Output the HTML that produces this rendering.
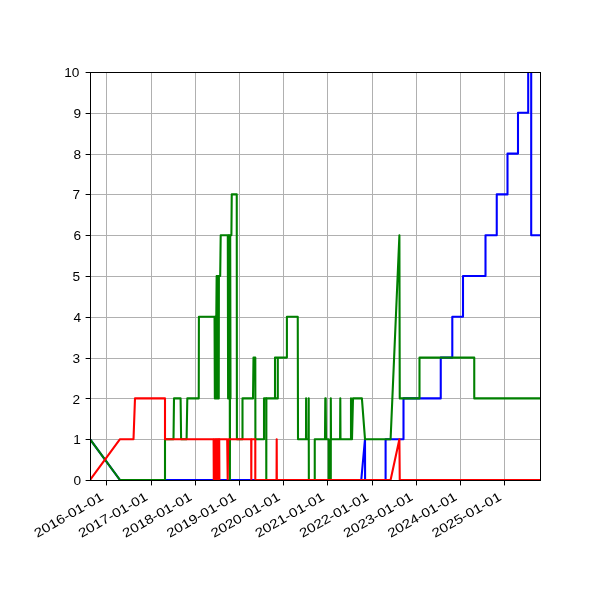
<!DOCTYPE html>
<html><head><meta charset="utf-8"><title>chart</title>
<style>
html,body{margin:0;padding:0;background:#fff;}
body{width:600px;height:600px;overflow:hidden;font-family:"Liberation Sans",sans-serif;}
svg{display:block;}
text{font-family:"Liberation Sans",sans-serif;fill:#000;}
</style></head><body>
<svg width="600" height="600" viewBox="0 0 600 600">
<rect x="0" y="0" width="600" height="600" fill="#ffffff"/>
<defs><clipPath id="ax"><rect x="90" y="72" width="450" height="408"/></clipPath></defs>

<g fill="#b0b0b0" shape-rendering="crispEdges">
<rect x="106" y="72" width="1" height="408"/>
<rect x="151" y="72" width="1" height="408"/>
<rect x="195" y="72" width="1" height="408"/>
<rect x="239" y="72" width="1" height="408"/>
<rect x="283" y="72" width="1" height="408"/>
<rect x="327" y="72" width="1" height="408"/>
<rect x="372" y="72" width="1" height="408"/>
<rect x="416" y="72" width="1" height="408"/>
<rect x="460" y="72" width="1" height="408"/>
<rect x="504" y="72" width="1" height="408"/>
<rect x="90" y="480" width="450" height="1"/>
<rect x="90" y="439" width="450" height="1"/>
<rect x="90" y="398" width="450" height="1"/>
<rect x="90" y="358" width="450" height="1"/>
<rect x="90" y="317" width="450" height="1"/>
<rect x="90" y="276" width="450" height="1"/>
<rect x="90" y="235" width="450" height="1"/>
<rect x="90" y="194" width="450" height="1"/>
<rect x="90" y="154" width="450" height="1"/>
<rect x="90" y="113" width="450" height="1"/>
<rect x="90" y="72" width="450" height="1"/>
</g>
<g clip-path="url(#ax)" fill="none" stroke-width="2.08" stroke-linejoin="round" stroke-linecap="square">
<path d="M90.00,439.20 L120.00,480.00 L361.25,480.00 L365.00,439.20 L365.10,480.00 L385.60,480.00 L385.60,439.20 L403.50,439.20 L403.50,398.40 L440.75,398.40 L440.75,357.60 L452.30,357.60 L452.30,316.80 L463.00,316.80 L463.00,276.00 L485.50,276.00 L485.50,235.20 L496.75,235.20 L496.75,194.40 L507.50,194.40 L507.50,153.60 L518.00,153.60 L518.00,112.80 L528.20,112.80 L528.20,51.60 L531.20,51.60 L531.20,235.20 L540.00,235.20" stroke="#0000ff"/>
<path d="M90.00,439.20 L120.00,480.00 L165.00,480.00 L165.00,439.20 L173.50,439.20 L174.00,398.40 L180.60,398.40 L181.10,439.20 L186.60,439.20 L187.30,398.40 L198.75,398.40 L198.90,316.80 L214.50,316.80 L214.55,316.80 L214.85,398.40 L215.15,316.80 L215.45,398.40 L215.75,316.80 L216.05,398.40 L216.30,316.80 L216.65,276.00 L216.95,398.40 L217.25,276.00 L217.55,398.40 L217.85,276.00 L218.15,398.40 L218.45,276.00 L218.75,398.40 L218.90,276.00 L219.00,276.00 L220.20,276.00 L220.70,235.20 L227.90,235.20 L227.80,235.20 L228.10,398.40 L228.40,235.20 L228.70,398.40 L229.00,235.20 L229.30,398.40 L229.60,235.20 L229.90,480.00 L230.20,235.20 L230.50,398.40 L230.20,235.20 L230.30,235.20 L231.40,235.20 L231.75,194.40 L236.75,194.40 L236.90,439.20 L242.50,439.20 L242.50,398.40 L253.00,398.40 L253.50,357.60 L255.30,357.60 L255.40,439.20 L264.00,439.20 L264.00,398.40 L266.20,398.40 L266.30,480.00 L266.40,398.40 L277.80,398.40 L277.80,357.60 M275.00,398.40 L275.00,357.60 L277.80,357.60 L286.90,357.60 L286.90,316.80 L297.75,316.80 L298.00,439.20 L306.00,439.20 L306.10,398.40 L306.20,439.20 L308.50,439.20 L308.70,398.40 L308.85,480.00 L314.75,480.00 L314.75,439.20 L325.00,439.20 L325.30,398.40 L325.70,398.40 L326.00,439.20 L328.70,439.20 L328.70,480.00 L330.80,480.00 L330.80,398.40 L331.00,439.20 L340.10,439.20 L340.30,398.40 L340.50,439.20 L351.00,439.20 L351.00,398.40 L352.00,439.20 L353.00,398.40 L361.90,398.40 L365.00,439.20 L390.60,439.20 L399.40,235.20 L399.75,398.40 L419.50,398.40 L419.50,357.60 L474.25,357.60 L474.25,398.40 L540.00,398.40" stroke="#008000"/>
<path d="M90.00,480.00 L120.00,439.20 L133.50,439.20 L135.00,398.40 L165.00,398.40 L165.00,439.20 L213.60,439.20 L213.80,480.00 L214.00,439.20 L214.90,439.20 L215.20,480.00 L215.50,439.20 L215.80,480.00 L216.10,439.20 L216.40,480.00 L216.70,439.20 L217.00,480.00 L217.30,439.20 L217.60,480.00 L217.90,439.20 L218.20,480.00 L218.50,439.20 L218.80,480.00 L219.10,439.20 L219.40,480.00 L219.20,439.20 L219.30,439.20 L227.20,439.20 L227.70,480.00 L228.20,439.20 L251.20,439.20 L251.30,480.00 L251.40,439.20 L255.30,439.20 L255.30,480.00 L276.55,480.00 L276.70,439.20 L276.85,480.00 L390.60,480.00 L399.40,439.20 L399.75,480.00 L540.00,480.00" stroke="#ff0000"/>
</g>
<g fill="#000000" shape-rendering="crispEdges">
<rect x="90" y="72" width="1" height="409"/><rect x="540" y="72" width="1" height="409"/>
<rect x="90" y="72" width="451" height="1"/><rect x="90" y="480" width="451" height="1"/>
</g>
<g fill="#000000">
<rect x="106" y="481" width="1" height="4.4"/>
<rect x="151" y="481" width="1" height="4.4"/>
<rect x="195" y="481" width="1" height="4.4"/>
<rect x="239" y="481" width="1" height="4.4"/>
<rect x="283" y="481" width="1" height="4.4"/>
<rect x="327" y="481" width="1" height="4.4"/>
<rect x="372" y="481" width="1" height="4.4"/>
<rect x="416" y="481" width="1" height="4.4"/>
<rect x="460" y="481" width="1" height="4.4"/>
<rect x="504" y="481" width="1" height="4.4"/>
<rect x="85.6" y="480" width="4.4" height="1"/>
<rect x="85.6" y="439" width="4.4" height="1"/>
<rect x="85.6" y="398" width="4.4" height="1"/>
<rect x="85.6" y="358" width="4.4" height="1"/>
<rect x="85.6" y="317" width="4.4" height="1"/>
<rect x="85.6" y="276" width="4.4" height="1"/>
<rect x="85.6" y="235" width="4.4" height="1"/>
<rect x="85.6" y="194" width="4.4" height="1"/>
<rect x="85.6" y="154" width="4.4" height="1"/>
<rect x="85.6" y="113" width="4.4" height="1"/>
<rect x="85.6" y="72" width="4.4" height="1"/>
</g>
<g font-size="12.8" text-anchor="end" style="filter:grayscale(1)">
<text x="81.00" y="485.1" textLength="7.6" lengthAdjust="spacingAndGlyphs">0</text>
<text x="80.90" y="444.3" textLength="7.6" lengthAdjust="spacingAndGlyphs">1</text>
<text x="80.20" y="403.5" textLength="7.6" lengthAdjust="spacingAndGlyphs">2</text>
<text x="80.20" y="362.7" textLength="7.6" lengthAdjust="spacingAndGlyphs">3</text>
<text x="81.00" y="321.9" textLength="7.6" lengthAdjust="spacingAndGlyphs">4</text>
<text x="80.20" y="281.1" textLength="7.6" lengthAdjust="spacingAndGlyphs">5</text>
<text x="81.00" y="239.8" textLength="7.6" lengthAdjust="spacingAndGlyphs">6</text>
<text x="80.20" y="198.5" textLength="7.6" lengthAdjust="spacingAndGlyphs">7</text>
<text x="81.00" y="158.7" textLength="7.6" lengthAdjust="spacingAndGlyphs">8</text>
<text x="81.00" y="117.9" textLength="7.6" lengthAdjust="spacingAndGlyphs">9</text>
<text x="79.45" y="77.1" textLength="15.2" lengthAdjust="spacingAndGlyphs">10</text>
</g>
<g font-size="12.8" text-anchor="end" style="filter:grayscale(1)">
<text transform="translate(104.35,499.2) rotate(-30)" x="0" y="0" textLength="77.6" lengthAdjust="spacingAndGlyphs">2016-01-01</text>
<text transform="translate(148.64,499.2) rotate(-30)" x="0" y="0" textLength="77.6" lengthAdjust="spacingAndGlyphs">2017-01-01</text>
<text transform="translate(192.80,499.2) rotate(-30)" x="0" y="0" textLength="77.6" lengthAdjust="spacingAndGlyphs">2018-01-01</text>
<text transform="translate(236.97,499.2) rotate(-30)" x="0" y="0" textLength="77.6" lengthAdjust="spacingAndGlyphs">2019-01-01</text>
<text transform="translate(281.13,499.2) rotate(-30)" x="0" y="0" textLength="77.6" lengthAdjust="spacingAndGlyphs">2020-01-01</text>
<text transform="translate(325.42,499.2) rotate(-30)" x="0" y="0" textLength="77.6" lengthAdjust="spacingAndGlyphs">2021-01-01</text>
<text transform="translate(369.58,499.2) rotate(-30)" x="0" y="0" textLength="77.6" lengthAdjust="spacingAndGlyphs">2022-01-01</text>
<text transform="translate(413.75,499.2) rotate(-30)" x="0" y="0" textLength="77.6" lengthAdjust="spacingAndGlyphs">2023-01-01</text>
<text transform="translate(457.91,499.2) rotate(-30)" x="0" y="0" textLength="77.6" lengthAdjust="spacingAndGlyphs">2024-01-01</text>
<text transform="translate(502.20,499.2) rotate(-30)" x="0" y="0" textLength="77.6" lengthAdjust="spacingAndGlyphs">2025-01-01</text>
</g>
</svg></body></html>
